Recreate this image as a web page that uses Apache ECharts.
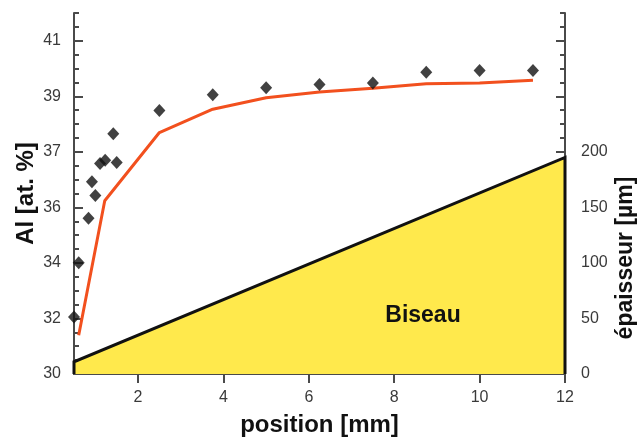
<!DOCTYPE html>
<html>
<head>
<meta charset="utf-8">
<script src="https://cdn.jsdelivr.net/npm/echarts@6/dist/echarts.min.js"></script>
<style>
html,body{margin:0;padding:0;background:#fff;}
#c{width:640px;height:440px;}
</style>
</head>
<body>
<div id="c"></div>
<script>
// ---- data ----
var measX = [0.5, 0.61, 0.84, 0.92, 1.0, 1.11, 1.23, 1.42, 1.5, 2.5, 3.75, 5.0, 6.25, 7.5, 8.75, 10.0, 11.25];
var measY = [31.88, 33.67, 35.14, 36.35, 35.89, 36.95, 37.06, 37.93, 36.98, 38.70, 39.22, 39.45, 39.56, 39.61, 39.96, 40.02, 40.02];
var calcX = [0.61, 1.22, 2.5, 3.75, 5.0, 6.25, 7.5, 8.75, 10.0, 11.25];
var calcY = [31.28, 35.72, 37.97, 38.74, 39.12, 39.31, 39.43, 39.58, 39.61, 39.70];
var bevelX = [0.5, 0.5, 12, 12];
var bevelY = [0, 11, 195, 0];
var xTicks = [2, 4, 6, 8, 10, 12];
var leftTickValues = [30, 31.8333, 33.6667, 35.5, 37.3333, 39.1667, 41];
var leftTickLabels = ['30', '32', '34', '36', '37', '39', '41'];
var rightTickValues = [0, 50, 100, 150, 200, 250, 300];
var rightLabelValues = [0, 50, 100, 150, 200];

// ---- axis helpers ----
var leftMin = 30, leftMax = 30 + 26 * 11 / 24;
var rightMin = 0, rightMax = 325;
var leftMinor = [];
for (var i = 0; i <= 26; i++) leftMinor.push(30 + i * 11 / 24);
var rightMinor = [];
for (var j = 0; j <= 26; j++) rightMinor.push(j * 12.5);

function zipPts(xs, ys) { return xs.map(function (x, k) { return [x, ys[k]]; }); }

var FONT = 'Liberation Sans, Arial, sans-serif';
var NFONT = '"Liberation Sans Narrow", "Arial Narrow", "Liberation Sans", Arial, sans-serif';
var AX = '#4a4a4a';
var labelStyle = { color: '#3a3a3a', fontSize: 16, fontFamily: NFONT };
var nameStyle = { color: '#111', fontSize: 24, fontWeight: 'bold', fontFamily: FONT };

var chart = echarts.init(document.getElementById('c'), null, { renderer: 'canvas' });
chart.setOption({
  animation: false,
  backgroundColor: '#fff',
  grid: { left: 74, right: 75, top: 13, bottom: 66, containLabel: false, outerBoundsMode: 'none' },
  xAxis: [
    {
      type: 'value', min: 0.5, max: 12, position: 'bottom',
      axisLine: { show: true, lineStyle: { color: AX, width: 2 } },
      axisTick: { show: true, customValues: xTicks, length: 9, inside: false, lineStyle: { color: AX, width: 2 } },
      axisLabel: { show: true, customValues: xTicks, margin: 16, ...labelStyle },
      splitLine: { show: false },
      name: 'position [mm]', nameLocation: 'middle', nameGap: 39, nameMoveOverlap: false, nameTextStyle: nameStyle
    },
    {
      type: 'value', min: 0.5, max: 12, position: 'top',
      axisLine: { show: true, lineStyle: { color: AX, width: 2 } },
      axisTick: { show: true, customValues: xTicks, length: 9, inside: false, lineStyle: { color: AX, width: 2 } },
      axisLabel: { show: false },
      splitLine: { show: false }
    }
  ],
  yAxis: [
    {
      type: 'value', min: leftMin, max: leftMax, position: 'left',
      axisLine: { show: true, lineStyle: { color: AX, width: 2 } },
      axisTick: { show: true, customValues: leftTickValues, inside: true, length: 9, lineStyle: { color: AX, width: 2 } },
      axisLabel: {
        show: true, customValues: leftTickValues, margin: 13, ...labelStyle,
        formatter: function (v) {
          var best = 0, d = 1e9;
          leftTickValues.forEach(function (t, k) { if (Math.abs(t - v) < d) { d = Math.abs(t - v); best = k; } });
          return leftTickLabels[best];
        }
      },
      splitLine: { show: false },
      name: 'Al [at. %]', nameLocation: 'middle', nameGap: 36, nameMoveOverlap: false, nameTextStyle: nameStyle
    },
    {
      type: 'value', min: leftMin, max: leftMax, position: 'left',
      axisLine: { show: false },
      axisTick: { show: true, customValues: leftMinor, inside: true, length: 5, lineStyle: { color: AX, width: 2 } },
      axisLabel: { show: false },
      splitLine: { show: false }
    },
    {
      type: 'value', min: rightMin, max: rightMax, position: 'right',
      axisLine: { show: true, lineStyle: { color: AX, width: 2 } },
      axisTick: { show: true, customValues: rightTickValues, inside: true, length: 9, lineStyle: { color: AX, width: 2 } },
      axisLabel: { show: true, customValues: rightLabelValues, margin: 16, ...labelStyle },
      splitLine: { show: false }
    },
    {
      type: 'value', min: rightMin, max: rightMax, position: 'right',
      axisLine: { show: false },
      axisTick: { show: true, customValues: rightMinor, inside: true, length: 5, lineStyle: { color: AX, width: 2 } },
      axisLabel: { show: false },
      splitLine: { show: false }
    }
  ],
  series: [
    {
      name: 'bevel', type: 'line', xAxisIndex: 0, yAxisIndex: 2,
      data: zipPts(bevelX, bevelY), symbol: 'none', clip: false,
      lineStyle: { color: '#111', width: 3, join: 'miter' },
      areaStyle: { color: '#FFE94C', opacity: 1 },
      z: 1
    },
    {
      name: 'calc', type: 'line', xAxisIndex: 0, yAxisIndex: 0,
      data: zipPts(calcX, calcY), symbol: 'none',
      lineStyle: { color: '#F2501E', width: 3 },
      z: 3
    },
    {
      name: 'meas', type: 'scatter', xAxisIndex: 0, yAxisIndex: 0,
      data: zipPts(measX, measY), symbol: 'diamond', symbolSize: [12, 13],
      itemStyle: { color: '#111' },
      z: 4
    }
  ],
  graphic: [
    {
      type: 'text', x: 423, y: 316,
      style: { text: 'Biseau', fill: '#111', font: 'bold 23px ' + FONT, align: 'center', verticalAlign: 'middle' },
      z: 10
    },
    {
      type: 'text', x: 626, y: 258, rotation: Math.PI / 2,
      style: { text: 'épaisseur [µm]', fill: '#111', font: 'bold 23px ' + FONT, align: 'center', verticalAlign: 'middle' },
      z: 10
    }
  ]
});
</script>
</body>
</html>
